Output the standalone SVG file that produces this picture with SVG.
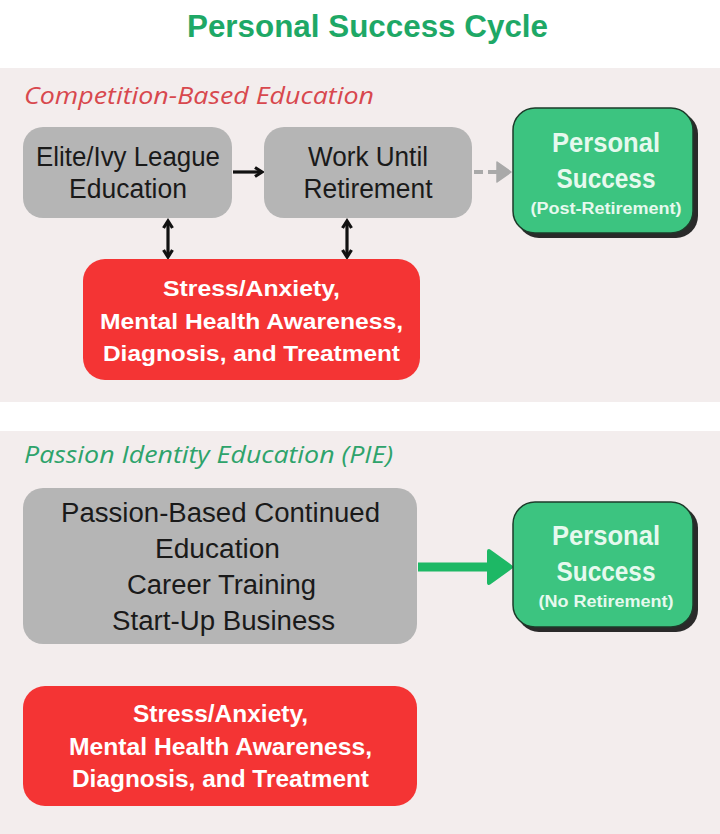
<svg xmlns="http://www.w3.org/2000/svg" width="720" height="834" viewBox="0 0 720 834">
<style>
.panel{fill:#f3eded}
.gray{fill:#b5b5b5}
.red{fill:#f43434}
.green{fill:#3cc480;stroke:#1d3b2a;stroke-width:1.5}
.shadow{fill:#2a2a2a}
.t{font-family:"Liberation Sans","Roboto",sans-serif;text-anchor:middle}
.dark{fill:#1a1a1a;font-size:27px}
.wb{fill:#ffffff;font-weight:bold}
.gt{fill:#e6f9ee;font-weight:bold}
.lbl{font-family:"Open Sans","Liberation Sans",sans-serif;font-style:italic;font-size:23px}
</style>
<defs>
<marker id="ah" markerWidth="12" markerHeight="12" refX="9" refY="6" orient="auto-start-reverse" markerUnits="userSpaceOnUse">
<path d="M2,1.5 L9,6 L2,10.5" fill="none" stroke="#111" stroke-width="3.2" stroke-linejoin="miter"/>
</marker>
</defs>
<rect width="720" height="834" fill="#ffffff"/>
<rect class="panel" x="0" y="68" width="720" height="334"/>
<rect class="panel" x="0" y="431" width="720" height="403"/>
<text class="t" x="367.5" y="37" font-size="32" font-weight="bold" fill="#1ea866" textLength="361" lengthAdjust="spacingAndGlyphs">Personal Success Cycle</text>
<text class="lbl" x="24" y="104" fill="#d8484e" textLength="350" lengthAdjust="spacingAndGlyphs">Competition-Based Education</text>
<text class="lbl" x="24" y="463" fill="#2ea36b" textLength="369" lengthAdjust="spacingAndGlyphs">Passion Identity Education (PIE)</text>

<g id="connectors">
<line x1="233" y1="172" x2="262" y2="172" stroke="#111" stroke-width="3.2" marker-end="url(#ah)"/>
<line x1="474" y1="172" x2="498" y2="172" stroke="#a9a9a9" stroke-width="4" stroke-dasharray="9,5"/>
<path d="M497,162 L511,172 L497,182 Z" fill="#a9a9a9" stroke="#a9a9a9" stroke-width="1.5" stroke-linejoin="round"/>
<line x1="168" y1="221" x2="168" y2="257" stroke="#111" stroke-width="3.2" marker-start="url(#ah)" marker-end="url(#ah)"/>
<line x1="347" y1="221" x2="347" y2="257" stroke="#111" stroke-width="3.2" marker-start="url(#ah)" marker-end="url(#ah)"/>
<line x1="418" y1="567" x2="492" y2="567" stroke="#1db865" stroke-width="9"/>
<path d="M489,551 L511,567 L489,583 Z" fill="#1db865" stroke="#1db865" stroke-width="4" stroke-linejoin="round"/>
</g>

<g id="elite">
<rect class="gray" x="23" y="127" width="209" height="91" rx="20"/>
<text class="t dark" x="128" y="166" textLength="184" lengthAdjust="spacingAndGlyphs">Elite/Ivy League</text>
<text class="t dark" x="128" y="198" textLength="118" lengthAdjust="spacingAndGlyphs">Education</text>
</g>
<g id="work">
<rect class="gray" x="264" y="127" width="208" height="91" rx="20"/>
<text class="t dark" x="368" y="166" textLength="120" lengthAdjust="spacingAndGlyphs">Work Until</text>
<text class="t dark" x="368" y="198" textLength="129" lengthAdjust="spacingAndGlyphs">Retirement</text>
</g>
<g id="success1">
<rect class="shadow" x="517" y="112" width="181" height="126" rx="22"/>
<rect class="green" x="513" y="108" width="180" height="125" rx="22"/>
<text class="t gt" x="606" y="152" font-size="28" textLength="108" lengthAdjust="spacingAndGlyphs">Personal</text>
<text class="t gt" x="606" y="188" font-size="28" textLength="99" lengthAdjust="spacingAndGlyphs">Success</text>
<text class="t gt" x="606" y="214" font-size="16" textLength="151" lengthAdjust="spacingAndGlyphs">(Post-Retirement)</text>
</g>
<g id="stress1">
<rect class="red" x="83" y="259" width="337" height="121" rx="22"/>
<text class="t wb" x="251.5" y="296" font-size="22" textLength="177" lengthAdjust="spacingAndGlyphs">Stress/Anxiety,</text>
<text class="t wb" x="251.5" y="329" font-size="22" textLength="303" lengthAdjust="spacingAndGlyphs">Mental Health Awareness,</text>
<text class="t wb" x="251.5" y="361" font-size="22" textLength="297" lengthAdjust="spacingAndGlyphs">Diagnosis, and Treatment</text>
</g>
<g id="pie">
<rect class="gray" x="23" y="488" width="394" height="156" rx="20"/>
<text class="t dark" x="220.5" y="522" font-size="28" textLength="319" lengthAdjust="spacingAndGlyphs">Passion-Based Continued</text>
<text class="t dark" x="217.5" y="558" font-size="28" textLength="125" lengthAdjust="spacingAndGlyphs">Education</text>
<text class="t dark" x="221.5" y="594" font-size="28" textLength="189" lengthAdjust="spacingAndGlyphs">Career Training</text>
<text class="t dark" x="223.5" y="630" font-size="28" textLength="223" lengthAdjust="spacingAndGlyphs">Start-Up Business</text>
</g>
<g id="success2">
<rect class="shadow" x="517" y="506" width="181" height="126" rx="22"/>
<rect class="green" x="513" y="502" width="180" height="125" rx="22"/>
<text class="t gt" x="606" y="545" font-size="28" textLength="108" lengthAdjust="spacingAndGlyphs">Personal</text>
<text class="t gt" x="606" y="581" font-size="28" textLength="99" lengthAdjust="spacingAndGlyphs">Success</text>
<text class="t gt" x="606" y="607" font-size="16" textLength="135" lengthAdjust="spacingAndGlyphs">(No Retirement)</text>
</g>
<g id="stress2">
<rect class="red" x="23" y="686" width="394" height="120" rx="22"/>
<text class="t wb" x="220.5" y="722" font-size="24" textLength="175" lengthAdjust="spacingAndGlyphs">Stress/Anxiety,</text>
<text class="t wb" x="220.5" y="755" font-size="24" textLength="303" lengthAdjust="spacingAndGlyphs">Mental Health Awareness,</text>
<text class="t wb" x="220.5" y="787" font-size="24" textLength="297" lengthAdjust="spacingAndGlyphs">Diagnosis, and Treatment</text>
</g>
</svg>
